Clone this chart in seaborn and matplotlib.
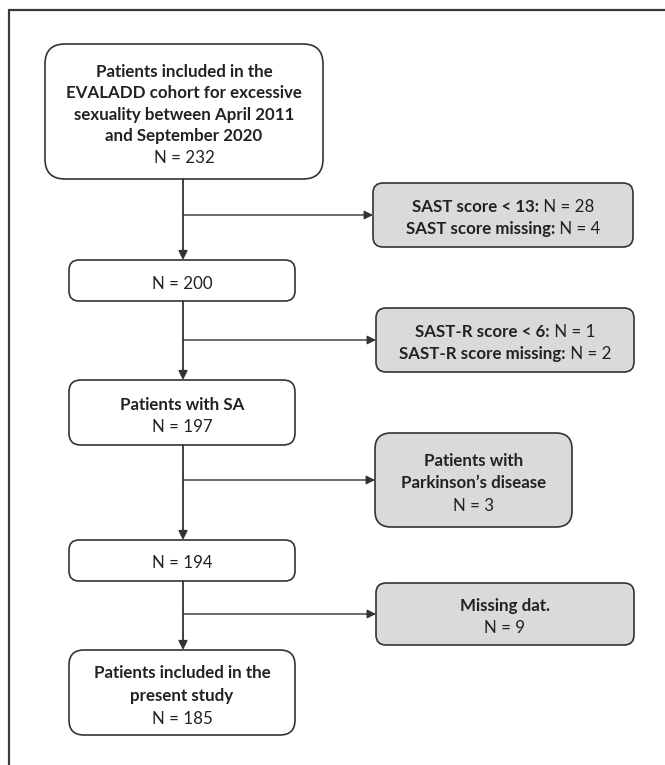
import matplotlib
matplotlib.use("Agg")
import matplotlib.pyplot as plt
import seaborn as sns
import pandas as pd
from matplotlib.patches import FancyBboxPatch

sns.set_theme(style="white")
plt.rcParams['font.family'] = ['Lato', 'DejaVu Sans']

# ---- data ----
main_titles = [
    ["Patients included in the", "EVALADD cohort for excessive",
     "sexuality between April 2011", "and September 2020"],
    [],
    ["Patients with SA"],
    [],
    ["Patients included in the", "present study"],
]
main_counts = [232, 200, 197, 194, 185]

excl_reasons = [
    ["SAST score < 13:", "SAST score missing:"],
    ["SAST-R score < 6:", "SAST-R score missing:"],
    ["Patients with", "Parkinson\u2019s disease"],
    ["Missing dat."],
]
excl_counts = [[28, 4], [1, 2], [3], [9]]
excl_inline = [True, True, False, False]

# ---- layout (pixels) ----
main_boxes = [(45, 323, 44, 179), (69, 295, 260, 301), (69, 295, 380, 445),
              (69, 295, 540, 581), (69, 295, 650, 735)]
main_radius = [20, 10, 12, 10, 15]
main_spacing = [21.5, 22, 22, 22, 23]
excl_boxes = [(373, 633, 183, 247), (376, 634, 308, 372),
              (375, 572, 433, 527), (376, 634, 583, 645)]
excl_radius = [10, 10, 16, 10]
spine_x = 183
EDGE = '#333333'
FILL = '#dadada'
FS = 12.2
YOFF = 3

fig = plt.figure(figsize=(6.65, 7.65), dpi=100)
ax = fig.add_axes([0, 0, 1, 1])

# outer frame (open on right and bottom)
top_edge = pd.DataFrame({'x': [9, 665], 'y': [10, 10]})
left_edge = pd.DataFrame({'x': [9, 9], 'y': [10, 765]})
for seg in (top_edge, left_edge):
    sns.lineplot(data=seg, x='x', y='y', estimator=None, sort=False,
                 color='#3a3a3a', lw=1.6, ax=ax)
ax.set_xlim(0, 665)
ax.set_ylim(765, 0)
ax.axis('off')

renderer = fig.canvas.get_renderer()


def draw_line(segments, xc, y):
    texts = []
    for s, bold in segments:
        t = ax.text(0, y, s, fontsize=FS, fontweight='bold' if bold else 'normal',
                    color='#222222', ha='left', va='center')
        texts.append(t)
    widths = [t.get_window_extent(renderer).width for t in texts]
    total = sum(widths)
    x = xc - total / 2
    for t, w in zip(texts, widths):
        t.set_x(x)
        x += w


def draw_box(box, r, fill, lines, ls=22.5):
    x0, x1, y0, y1 = box
    p = FancyBboxPatch((x0, y0), x1 - x0, y1 - y0,
                       boxstyle=f"round,pad=0,rounding_size={r}",
                       fc=fill, ec=EDGE, lw=1.2, zorder=2)
    ax.add_patch(p)
    n = len(lines)
    yc = (y0 + y1) / 2 + YOFF
    xc = (x0 + x1) / 2
    for i, segs in enumerate(lines):
        draw_line(segs, xc, yc + (i - (n - 1) / 2) * ls)


for box, r, ls, title, cnt in zip(main_boxes, main_radius, main_spacing,
                                  main_titles, main_counts):
    lines = [[(t, True)] for t in title] + [[(f"N = {cnt}", False)]]
    draw_box(box, r, 'white', lines, ls)

for box, r, reasons, cnts, inline in zip(excl_boxes, excl_radius, excl_reasons,
                                         excl_counts, excl_inline):
    if inline:
        lines = [[(rs, True), (f" N = {c}", False)] for rs, c in zip(reasons, cnts)]
    else:
        lines = [[(rs, True)] for rs in reasons] + [[(f"N = {cnts[0]}", False)]]
    draw_box(box, r, FILL, lines)

arrow = dict(arrowstyle='-|>', mutation_scale=13, lw=1.3, color=EDGE,
             shrinkA=0, shrinkB=0)
# vertical arrows
for a, b in zip(main_boxes[:-1], main_boxes[1:]):
    ax.annotate('', xy=(spine_x, b[2]), xytext=(spine_x, a[3]), arrowprops=arrow)
# horizontal arrows
for eb in excl_boxes:
    ym = (eb[2] + eb[3]) / 2
    ax.annotate('', xy=(eb[0], ym), xytext=(spine_x, ym),
                arrowprops=dict(arrow, lw=1.0))

fig.savefig('out.png', dpi=100, facecolor='white')
